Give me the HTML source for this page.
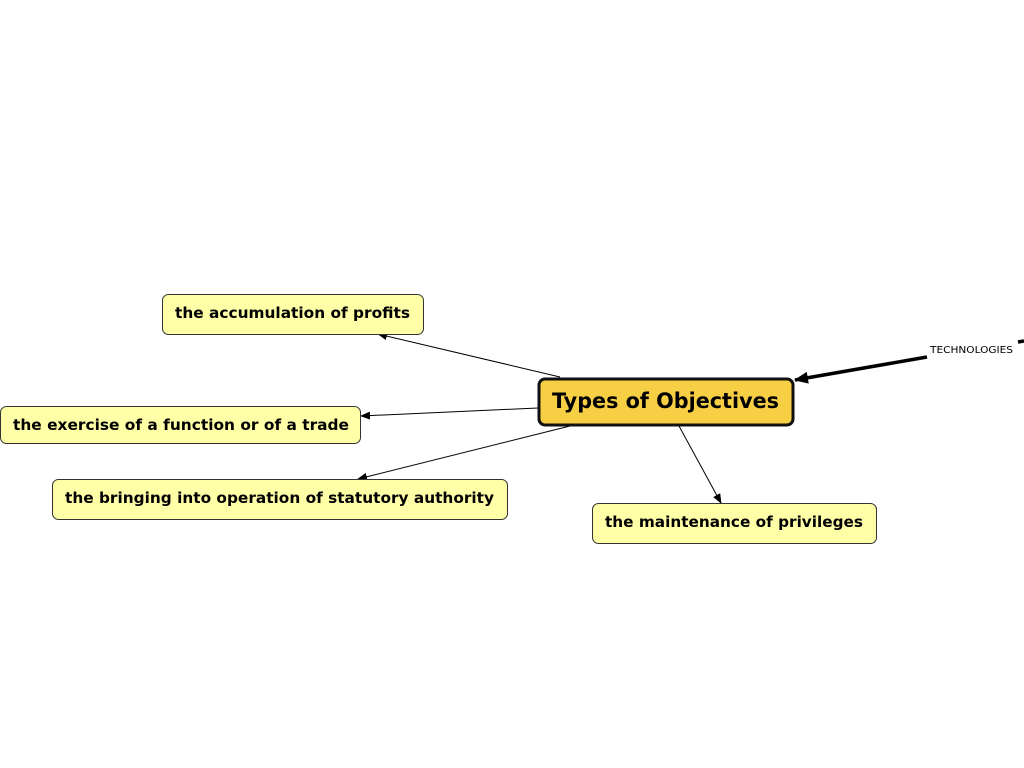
<!DOCTYPE html>
<html><head><meta charset="utf-8"><style>html,body{margin:0;padding:0;background:#fff}svg{display:block}</style></head>
<body>
<svg width="1024" height="768" viewBox="0 0 1024 768" xmlns="http://www.w3.org/2000/svg">
<defs>
<marker id="a" markerWidth="10" markerHeight="8" refX="9" refY="4" orient="auto" markerUnits="userSpaceOnUse"><path d="M0,0 L10,4 L0,8 z" fill="#000"/></marker>
<marker id="b" markerWidth="14" markerHeight="12" refX="13" refY="6" orient="auto" markerUnits="userSpaceOnUse"><path d="M0,0 L14,6 L0,12 z" fill="#000"/></marker>
</defs>
<g stroke="#000" stroke-width="1" fill="none">
<line x1="560" y1="377" x2="378" y2="334" marker-end="url(#a)"/>
<line x1="538" y1="408" x2="361" y2="416" marker-end="url(#a)"/>
<line x1="570" y1="426" x2="358" y2="479" marker-end="url(#a)"/>
<line x1="679" y1="426" x2="721" y2="503" marker-end="url(#a)"/>
<line x1="927" y1="357" x2="795" y2="380" stroke-width="3.5" marker-end="url(#b)"/>
<line x1="1018" y1="342" x2="1024" y2="341" stroke-width="3.5"/>
</g>
<g fill="#ffffa8" stroke="#333" stroke-width="1">
<rect x="162.5" y="294.5" width="261" height="40" rx="6"/>
<rect x="0.5" y="406.5" width="360" height="37" rx="6"/>
<rect x="52.5" y="479.5" width="455" height="40" rx="6"/>
<rect x="592.5" y="503.5" width="284" height="40" rx="6"/>
</g>
<rect x="539" y="379" width="254" height="46" rx="6" fill="#f7cf45" stroke="#111" stroke-width="3"/>
<g font-family="'DejaVu Sans','Liberation Sans',sans-serif" font-weight="bold" fill="#000">
<text x="175" y="318" font-size="15" textLength="235" lengthAdjust="spacingAndGlyphs">the accumulation of profits</text>
<text x="13" y="430" font-size="15" textLength="336" lengthAdjust="spacingAndGlyphs">the exercise of a function or of a trade</text>
<text x="65" y="503" font-size="15" textLength="429" lengthAdjust="spacingAndGlyphs">the bringing into operation of statutory authority</text>
<text x="605" y="527" font-size="15" textLength="258" lengthAdjust="spacingAndGlyphs">the maintenance of privileges</text>
<text x="552" y="408" font-size="21" textLength="227" lengthAdjust="spacingAndGlyphs">Types of Objectives</text>
</g>
<text x="930" y="353" font-family="'DejaVu Sans','Liberation Sans',sans-serif" font-size="10" fill="#000" textLength="83" lengthAdjust="spacingAndGlyphs">TECHNOLOGIES</text>
</svg>
</body></html>
